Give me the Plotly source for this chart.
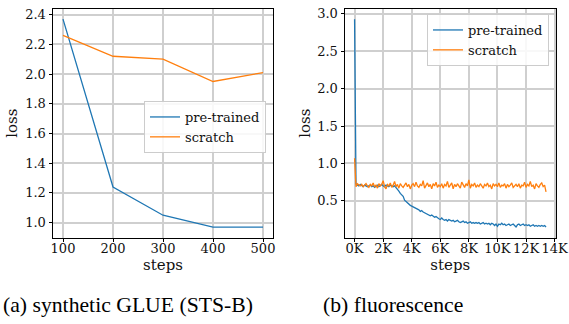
import plotly.graph_objects as go

# ---- data: (a) synthetic GLUE (STS-B)
glue_steps = [100, 200, 300, 400, 500]
glue_pretrained = [2.37, 1.24, 1.05, 0.97, 0.97]
glue_scratch = [2.26, 2.12, 2.10, 1.95, 2.01]

# ---- data: (b) fluorescence (one reading every 100 steps, 0 .. 13400)
fl_steps = list(range(0, 13500, 100))
fl_pretrained = [
    2.93, 0.73, 0.71, 0.70, 0.72, 0.70, 0.69, 0.71, 0.70, 0.69,
    0.70, 0.71, 0.69, 0.70, 0.68, 0.70, 0.71, 0.69, 0.70, 0.72,
    0.70, 0.69, 0.71, 0.70, 0.69, 0.71, 0.70, 0.69, 0.70, 0.68,
    0.66, 0.63, 0.60, 0.58, 0.56, 0.51, 0.49, 0.48, 0.46, 0.44,
    0.43, 0.42, 0.42, 0.40, 0.39, 0.38, 0.36, 0.37, 0.35, 0.34,
    0.33, 0.32, 0.32, 0.30, 0.31, 0.29, 0.28, 0.29, 0.27, 0.26,
    0.25, 0.27, 0.25, 0.24, 0.25, 0.23, 0.25, 0.24, 0.23, 0.24,
    0.22, 0.23, 0.24, 0.22, 0.21, 0.22, 0.23, 0.21, 0.22, 0.20,
    0.21, 0.22, 0.20, 0.21, 0.20, 0.21, 0.20, 0.21, 0.19, 0.20,
    0.21, 0.19, 0.20, 0.19, 0.20, 0.18, 0.20, 0.19, 0.17, 0.19,
    0.16, 0.19, 0.18, 0.20, 0.18, 0.19, 0.17, 0.18, 0.19, 0.17,
    0.18, 0.19, 0.17, 0.15, 0.18, 0.19, 0.17, 0.18, 0.19, 0.17,
    0.18, 0.17, 0.18, 0.16, 0.17, 0.18, 0.16, 0.17, 0.16, 0.17,
    0.16, 0.17, 0.16, 0.17, 0.15,
]
fl_scratch = [
    1.07, 0.69, 0.73, 0.71, 0.70, 0.72, 0.69, 0.71, 0.73, 0.70,
    0.68, 0.72, 0.70, 0.74, 0.69, 0.71, 0.67, 0.73, 0.70, 0.72,
    0.77, 0.69, 0.66, 0.72, 0.70, 0.74, 0.68, 0.71, 0.76, 0.69,
    0.72, 0.67, 0.73, 0.70, 0.68, 0.71, 0.74, 0.69, 0.72, 0.66,
    0.71, 0.73, 0.69, 0.75, 0.70, 0.68, 0.72, 0.70, 0.77, 0.67,
    0.71, 0.74, 0.69, 0.72, 0.66, 0.73, 0.70, 0.75, 0.68, 0.71,
    0.69, 0.73, 0.67, 0.72, 0.70, 0.76, 0.68, 0.71, 0.74, 0.66,
    0.72, 0.69, 0.73, 0.70, 0.67, 0.75, 0.71, 0.68, 0.73, 0.70,
    0.78, 0.67, 0.72, 0.70, 0.74, 0.68, 0.71, 0.69, 0.73, 0.70,
    0.67, 0.72, 0.70, 0.74, 0.69, 0.71, 0.66, 0.73, 0.70, 0.72,
    0.69, 0.74, 0.68, 0.71, 0.70, 0.73, 0.67, 0.72, 0.69, 0.71,
    0.74, 0.68, 0.70, 0.72, 0.69, 0.73, 0.67, 0.71, 0.70, 0.75,
    0.68, 0.72, 0.70, 0.76, 0.69, 0.71, 0.66, 0.73, 0.70, 0.68,
    0.72, 0.74, 0.69, 0.71, 0.62,
]

# ---- tick labels
glue_yticks = [1.0, 1.2, 1.4, 1.6, 1.8, 2.0, 2.2, 2.4]
glue_xticks = [100, 200, 300, 400, 500]
fl_yticks = [0.5, 1.0, 1.5, 2.0, 2.5, 3.0]
fl_xticks = [0, 2000, 4000, 6000, 8000, 10000, 12000, 14000]
fl_xticklabels = ["0K", "2K", "4K", "6K", "8K", "10K", "12K", "14K"]

series_names = ["pre-trained", "scratch"]
captions = ["(a) synthetic GLUE (STS-B)", "(b) fluorescence"]

BLUE = "#1f77b4"
ORANGE = "#ff7f0e"
W, H = 569, 324
SERIF = "'DejaVu Serif', serif"
TIMES = "'Liberation Serif', 'Times New Roman', serif"

fig = go.Figure()
fig.add_trace(go.Scatter(x=glue_steps, y=glue_pretrained, mode="lines", name=series_names[0],
                         line=dict(color=BLUE, width=1.3), xaxis="x", yaxis="y", legend="legend"))
fig.add_trace(go.Scatter(x=glue_steps, y=glue_scratch, mode="lines", name=series_names[1],
                         line=dict(color=ORANGE, width=1.3), xaxis="x", yaxis="y", legend="legend"))
fig.add_trace(go.Scatter(x=fl_steps, y=fl_pretrained, mode="lines", name=series_names[0],
                         line=dict(color=BLUE, width=1.3), xaxis="x2", yaxis="y2", legend="legend2"))
fig.add_trace(go.Scatter(x=fl_steps, y=fl_scratch, mode="lines", name=series_names[1],
                         line=dict(color=ORANGE, width=1.3), xaxis="x2", yaxis="y2", legend="legend2"))

ydom = [1 - 237.5 / H, 1 - 8.7 / H]
common = dict(showline=True, linecolor="black", linewidth=1, mirror=True,
              ticks="outside", ticklen=3.5, tickcolor="black", tickwidth=1,
              showgrid=True, gridcolor="#cfcfcf", gridwidth=1.5, zeroline=False,
              automargin=False, tickangle=0,
              tickfont=dict(family=SERIF, size=13, color="#111"))
title_font = dict(family=SERIF, size=15, color="#111")
legend_font = dict(family=SERIF, size=13, color="#111")

fig.update_layout(
    width=W, height=H, autosize=False,
    margin=dict(l=0, r=0, t=0, b=0, autoexpand=False),
    paper_bgcolor="white", plot_bgcolor="white",
    xaxis=dict(domain=[53 / W, 273 / W], range=[80, 520], tickvals=glue_xticks,
               ticklabelstandoff=-5,
               title=dict(text="steps", font=title_font, standoff=4), anchor="y", **common),
    yaxis=dict(domain=ydom, range=[0.9, 2.44], tickvals=glue_yticks, tickformat=".1f",
               title=dict(text="loss", font=title_font, standoff=3), anchor="x", **common),
    xaxis2=dict(domain=[345 / W, 555.6 / W], range=[-670, 14070], tickvals=fl_xticks,
                ticktext=fl_xticklabels, ticklabelstandoff=-5,
                title=dict(text="steps", font=title_font, standoff=4), anchor="y2", **common),
    yaxis2=dict(domain=ydom, range=[0.01, 3.07], tickvals=fl_yticks, tickformat=".1f",
                title=dict(text="loss", font=title_font, standoff=2), anchor="x2", **common),
    legend=dict(x=266 / W, y=1 - 101 / H, xanchor="right", yanchor="top",
                bgcolor="rgba(255,255,255,0.85)", bordercolor="#cccccc", borderwidth=1,
                font=legend_font, itemwidth=30, tracegroupgap=0),
    legend2=dict(x=549 / W, y=1 - 14 / H, xanchor="right", yanchor="top",
                 bgcolor="rgba(255,255,255,0.85)", bordercolor="#cccccc", borderwidth=1,
                 font=legend_font, itemwidth=30, tracegroupgap=0),
    annotations=[
        dict(text=captions[0], x=127.5 / W, y=1 - 305 / H, xref="paper", yref="paper",
             showarrow=False, xanchor="center", yanchor="middle",
             font=dict(family=TIMES, size=21.7, color="black")),
        dict(text=captions[1], x=393 / W, y=1 - 305 / H, xref="paper", yref="paper",
             showarrow=False, xanchor="center", yanchor="middle",
             font=dict(family=TIMES, size=21.7, color="black")),
    ],
)

# remove the browser's default 8px body margin so the figure sits at the window origin
fig.write_html("out.html", config={"displayModeBar": False},
               post_script="document.body.style.margin='0';")
